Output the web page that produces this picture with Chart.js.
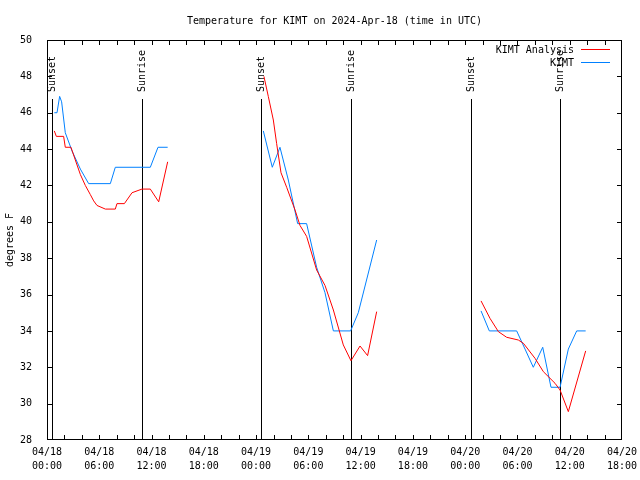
<!DOCTYPE html>
<html>
<head>
<meta charset="utf-8">
<script src="https://cdn.jsdelivr.net/npm/chart.js@4/dist/chart.umd.min.js"></script>
<style>
    body { margin: 0; background: #fff; }
    canvas { display: block; }
</style>
</head>
<body>
<canvas id="tempChart" width="640" height="480"></canvas>
<script>
// hours since 04/18 00:00 UTC, null = gap between runs
const analysisHours = [0.84, 1.07, 1.91, 2.1, 2.75, 3.25, 3.83, 4.4, 4.97, 5.36, 5.74, 6.7, 7.84, 8.03, 8.88, 9.76, 10.9, 11.86, 12.82, 13.85,
    19,
    24.9, 25.4, 25.98, 26.36, 26.86, 27.51, 28.47, 29.04, 29.8, 30.95, 31.91, 32.87, 34.01, 34.89, 35.93, 36.8, 37.84,
    44,
    49.82, 50.85, 51.81, 52.76, 54.1, 54.68, 56.02, 56.97, 58.31, 58.89, 59.84, 61.83];
const analysisTemps = [45.0, 44.7, 44.7, 44.1, 44.1, 43.4, 42.6, 42.0, 41.5, 41.15, 40.9, 40.7, 40.7, 41.0, 41.0, 41.6, 41.8, 41.8, 41.1, 43.3,
    null,
    48.0, 46.9, 45.6, 44.3, 42.7, 41.9, 40.65, 39.8, 39.2, 37.35, 36.5, 35.15, 33.23, 32.36, 33.17, 32.64, 35.06,
    null,
    35.65, 34.69, 33.96, 33.65, 33.5, 33.32, 32.49, 31.76, 31.12, 30.75, 29.56, 32.9];

const obsHours = [0.84, 1.15, 1.45, 1.68, 2.1, 2.87, 3.83, 4.78, 7.27, 7.84, 11.86, 12.74, 13.85,
    19,
    24.83, 25.86, 26.74, 27.7, 28.77, 29.8, 30.95, 31.91, 32.87, 34.85, 35.73, 37.84,
    44,
    49.82, 50.77, 53.91, 54.87, 55.82, 56.9, 57.85, 58.89, 59.84, 60.8, 61.83];
const obsTemps = [46.0, 46.0, 46.9, 46.6, 44.9, 43.9, 42.9, 42.1, 42.1, 43.0, 43.0, 44.1, 44.1,
    null,
    45.0, 43.0, 44.1, 42.3, 39.9, 39.9, 37.5, 36.1, 34.0, 34.0, 35.0, 39.0,
    null,
    35.1, 34.0, 34.0, 33.0, 32.0, 33.1, 30.9, 30.9, 33.0, 34.0, 34.0];

const sunHours = [0.54, 10.94, 24.6, 34.9, 48.63, 58.92];
const sunLabels = ['Sunset', 'Sunrise', 'Sunset', 'Sunrise', 'Sunset', 'Sunrise'];

const xTickHours = [0, 6, 12, 18, 24, 30, 36, 42, 48, 54, 60, 66];
const xTickLabels = [
    ['04/18', '00:00'], ['04/18', '06:00'], ['04/18', '12:00'], ['04/18', '18:00'],
    ['04/19', '00:00'], ['04/19', '06:00'], ['04/19', '12:00'], ['04/19', '18:00'],
    ['04/20', '00:00'], ['04/20', '06:00'], ['04/20', '12:00'], ['04/20', '18:00']
];

const FONT = 'DejaVu Sans Mono';
Chart.defaults.color = '#000';
Chart.defaults.font.family = FONT;
Chart.defaults.font.size = 10;

function toPoints(hours, temps) {
    return hours.map((h, i) => ({ x: h, y: temps[i] }));
}

// gnuplot style frame, inward ticks, sunrise/sunset markers and legend
const gnuplotDecor = {
    id: 'gnuplotDecor',
    beforeDatasetsDraw(chart) {
        const { ctx, chartArea: a, scales: { x } } = chart;
        ctx.save();
        ctx.strokeStyle = '#000';
        ctx.lineWidth = 1;
        ctx.fillStyle = '#000';
        ctx.font = '10px ' + FONT;
        sunHours.forEach((h, i) => {
            const px = Math.round(x.getPixelForValue(h)) + 0.5;
            ctx.beginPath();
            ctx.moveTo(px, a.top + 59);
            ctx.lineTo(px, a.bottom);
            ctx.stroke();
            ctx.save();
            ctx.translate(px, a.top + 52);
            ctx.rotate(-Math.PI / 2);
            ctx.textAlign = 'left';
            ctx.textBaseline = 'middle';
            ctx.fillText(sunLabels[i], 0, 0);
            ctx.restore();
        });
        ctx.restore();
    },
    afterDraw(chart) {
        const { ctx, chartArea: a, scales: { x, y } } = chart;
        ctx.save();
        ctx.strokeStyle = '#000';
        ctx.lineWidth = 1;
        ctx.strokeRect(a.left + 0.5, a.top + 0.5, a.right - a.left - 1, a.bottom - a.top - 1);
        ctx.beginPath();
        for (let h = 2; h < 66; h += 2) {
            const px = Math.round(x.getPixelForValue(h)) + 0.5;
            ctx.moveTo(px, a.bottom); ctx.lineTo(px, a.bottom - 5);
            ctx.moveTo(px, a.top); ctx.lineTo(px, a.top + 5);
        }
        for (let t = 30; t < 50; t += 2) {
            const py = Math.round(y.getPixelForValue(t)) + 0.5;
            ctx.moveTo(a.left, py); ctx.lineTo(a.left + 5, py);
            ctx.moveTo(a.right, py); ctx.lineTo(a.right - 5, py);
        }
        ctx.stroke();

        // legend
        ctx.font = '10px ' + FONT;
        ctx.textAlign = 'right';
        ctx.textBaseline = 'middle';
        chart.data.datasets.forEach((ds, i) => {
            const ly = a.top + 9.5 + i * 13;
            ctx.fillStyle = '#000';
            ctx.fillText(ds.label, a.right - 48, ly + 1);
            ctx.strokeStyle = ds.borderColor;
            ctx.beginPath();
            ctx.moveTo(a.right - 41, ly);
            ctx.lineTo(a.right - 12, ly);
            ctx.stroke();
        });
        ctx.restore();
    }
};

new Chart(document.getElementById('tempChart'), {
    type: 'line',
    data: {
        datasets: [{
            label: 'KIMT Analysis',
            data: toPoints(analysisHours, analysisTemps),
            borderColor: '#ff0000',
            borderWidth: 1,
            pointRadius: 0,
            tension: 0,
            spanGaps: false
        }, {
            label: 'KIMT',
            data: toPoints(obsHours, obsTemps),
            borderColor: '#0080ff',
            borderWidth: 1,
            pointRadius: 0,
            tension: 0,
            spanGaps: false
        }]
    },
    options: {
        responsive: false,
        devicePixelRatio: 1,
        animation: false,
        layout: { padding: { left: 0, right: 18, top: 0, bottom: 0 } },
        plugins: {
            legend: { display: false },
            tooltip: { enabled: false },
            title: {
                display: true,
                fullSize: false,
                text: 'Temperature for KIMT on 2024-Apr-18 (time in UTC)',
                font: { family: FONT, size: 10, weight: 'normal', lineHeight: 1.2 },
                color: '#000',
                padding: { top: 15, bottom: 13 }
            }
        },
        scales: {
            x: {
                type: 'linear',
                min: 0,
                max: 66,
                grid: { display: false },
                border: { display: false },
                afterBuildTicks(scale) {
                    scale.ticks = xTickHours.map(v => ({ value: v }));
                },
                afterFit(scale) {
                    scale.height = 40;
                    scale.paddingLeft = 0;
                    scale.paddingRight = 0;
                },
                ticks: {
                    autoSkip: false,
                    maxRotation: 0,
                    padding: -3,
                    font: { family: FONT, size: 10, lineHeight: 1.45 },
                    callback: (v) => xTickLabels[xTickHours.indexOf(v)]
                }
            },
            y: {
                min: 28,
                max: 50,
                grid: { display: false },
                border: { display: false },
                afterFit(scale) { scale.width = 47; },
                title: {
                    display: true,
                    text: 'degrees F',
                    font: { family: FONT, size: 10, lineHeight: 1.2 },
                    padding: { top: 4, bottom: 0 }
                },
                ticks: {
                    stepSize: 2,
                    padding: 7,
                    font: { family: FONT, size: 10 }
                }
            }
        }
    },
    plugins: [gnuplotDecor]
});
</script>
</body>
</html>
